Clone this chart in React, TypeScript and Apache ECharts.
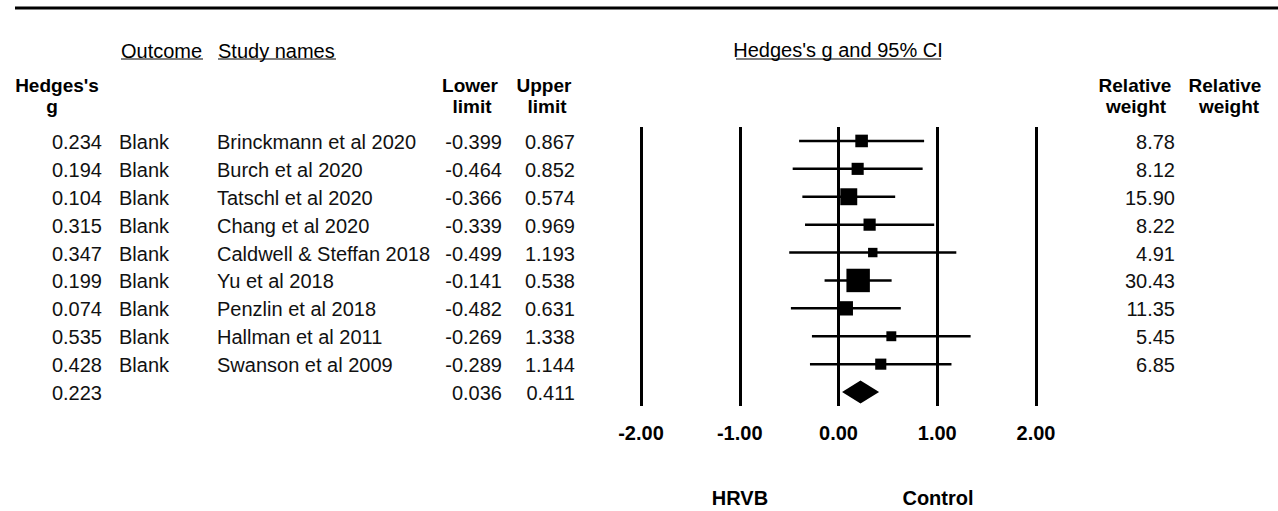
import React, { useEffect, useRef } from "react";
import * as echarts from "echarts";

// ---------- data ----------
const outcomes = ["Blank", "Blank", "Blank", "Blank", "Blank", "Blank", "Blank", "Blank", "Blank"];
const studyNames = [
  "Brinckmann et al 2020",
  "Burch et al 2020",
  "Tatschl et al 2020",
  "Chang et al 2020",
  "Caldwell & Steffan 2018",
  "Yu et al 2018",
  "Penzlin et al 2018",
  "Hallman et al 2011",
  "Swanson et al 2009",
];
const hedgesG = [0.234, 0.194, 0.104, 0.315, 0.347, 0.199, 0.074, 0.535, 0.428];
const lowerLimits = [-0.399, -0.464, -0.366, -0.339, -0.499, -0.141, -0.482, -0.269, -0.289];
const upperLimits = [0.867, 0.852, 0.574, 0.969, 1.193, 0.538, 0.631, 1.338, 1.144];
const relativeWeights = [8.78, 8.12, 15.9, 8.22, 4.91, 30.43, 11.35, 5.45, 6.85];
// summary: g, lower, upper
const summaryValues = [0.223, 0.036, 0.411];
const xTicks = [-2, -1, 0, 1, 2];
const sideLabels = ["HRVB", "Control"];

const FONT = "'Liberation Sans', Arial, Helvetica, sans-serif";

export default function App() {
  const ref = useRef<HTMLDivElement>(null);

  useEffect(() => {
    document.body.style.margin = "0";
    if (!ref.current) return;
    const chart = echarts.init(ref.current, undefined, { renderer: "svg" });

    const nRows = studyNames.length + 1;
    const studyData = hedgesG.map((g, i) => [g, lowerLimits[i], upperLimits[i], i, relativeWeights[i]]);
    const summaryData = [[summaryValues[0], summaryValues[1], summaryValues[2], studyNames.length]];
    const tableData = studyNames.map((_, i) => [0, i]);

    const txt = (x: number, y: number, text: string, align: string, bold = false, size = 20, color = "#111") => ({
      type: "text",
      x,
      y,
      style: {
        text,
        fill: bold ? "#000" : color,
        font: `${bold ? "bold " : ""}${size}px ${FONT}`,
        textAlign: align,
        textVerticalAlign: "middle",
      },
    });

    const hLine = (x1: number, x2: number, y: number, w: number) => ({
      type: "line",
      shape: { x1, y1: y, x2, y2: y },
      style: { stroke: "#000", lineWidth: w },
    });

    const option: any = {
      animation: false,
      backgroundColor: "#fff",
      grid: { left: 641, right: 242, top: 127, height: 279, containLabel: false },
      xAxis: {
        type: "value",
        min: xTicks[0],
        max: xTicks[xTicks.length - 1],
        interval: 1,
        axisLine: { show: false },
        axisTick: { show: false },
        splitLine: {
          show: true,
          showMinLine: true,
          showMaxLine: true,
          lineStyle: { color: "#000", width: 3 },
        },
        axisLabel: {
          margin: 17,
          color: "#000",
          fontSize: 20,
          fontWeight: "bold",
          fontFamily: FONT,
          formatter: (v: number) => v.toFixed(2),
          showMinLabel: true,
          showMaxLabel: true,
        },
      },
      yAxis: {
        type: "value",
        min: -0.5,
        max: nRows - 0.5,
        inverse: true,
        show: false,
        splitLine: { show: false },
      },
      series: [
        {
          type: "custom",
          name: "studies",
          clip: false,
          data: studyData,
          encode: { x: [0, 1, 2], y: 3 },
          renderItem: (params: any, api: any) => {
            const y = api.coord([0, api.value(3)])[1];
            const xg = api.coord([api.value(0), api.value(3)])[0];
            const xl = api.coord([api.value(1), api.value(3)])[0];
            const xu = api.coord([api.value(2), api.value(3)])[0];
            const s = 4.25 * Math.sqrt(api.value(4));
            return {
              type: "group",
              children: [
                { type: "line", shape: { x1: xl, y1: y, x2: xu, y2: y }, style: { stroke: "#000", lineWidth: 2.5 } },
                { type: "rect", shape: { x: xg - s / 2, y: y - s / 2, width: s, height: s }, style: { fill: "#000" } },
              ],
            };
          },
        },
        {
          type: "custom",
          name: "summary",
          clip: false,
          data: summaryData,
          encode: { x: [0, 1, 2], y: 3 },
          renderItem: (params: any, api: any) => {
            const y = api.coord([0, api.value(3)])[1];
            const xg = api.coord([api.value(0), api.value(3)])[0];
            const xl = api.coord([api.value(1), api.value(3)])[0];
            const xu = api.coord([api.value(2), api.value(3)])[0];
            const h = 11.5;
            return {
              type: "polygon",
              shape: { points: [[xl, y], [xg, y - h], [xu, y], [xg, y + h]] },
              style: { fill: "#000" },
            };
          },
        },
        {
          type: "custom",
          name: "table",
          clip: false,
          silent: true,
          data: tableData,
          encode: { x: 0, y: 1 },
          renderItem: (params: any, api: any) => {
            const i = params.dataIndex;
            const y = api.coord([0, api.value(1)])[1] + 1;
            return {
              type: "group",
              children: [
                txt(102, y, hedgesG[i].toFixed(3), "right"),
                txt(119, y, outcomes[i], "left"),
                txt(217, y, studyNames[i], "left"),
                txt(502, y, lowerLimits[i].toFixed(3), "right"),
                txt(575, y, upperLimits[i].toFixed(3), "right"),
                txt(1175, y, relativeWeights[i].toFixed(2), "right"),
              ],
            };
          },
        },
        {
          type: "custom",
          name: "summaryTable",
          clip: false,
          silent: true,
          data: [[0, studyNames.length]],
          encode: { x: 0, y: 1 },
          renderItem: (params: any, api: any) => {
            const y = api.coord([0, api.value(1)])[1] + 1;
            return {
              type: "group",
              children: [
                txt(102, y, summaryValues[0].toFixed(3), "right"),
                txt(502, y, summaryValues[1].toFixed(3), "right"),
                txt(575, y, summaryValues[2].toFixed(3), "right"),
              ],
            };
          },
        },
      ],
      graphic: [
        hLine(15, 1278, 8, 3),
        txt(121, 51, "Outcome", "left", false, 20, "#000"),
        hLine(121, 203, 59, 1.2),
        txt(218, 51, "Study names", "left", false, 20, "#000"),
        hLine(218, 336, 59, 1.2),
        txt(838, 50, "Hedges's g and 95% CI", "center", false, 20, "#000"),
        hLine(736, 941, 59, 1.2),
        txt(57, 85, "Hedges's", "center", true, 19),
        txt(52, 106, "g", "center", true, 19),
        txt(470, 85, "Lower", "center", true, 19),
        txt(472, 106, "limit", "center", true, 19),
        txt(544, 85, "Upper", "center", true, 19),
        txt(547, 106, "limit", "center", true, 19),
        txt(1135, 85, "Relative", "center", true, 19),
        txt(1136, 106, "weight", "center", true, 19),
        txt(1225, 85, "Relative", "center", true, 19),
        txt(1229, 106, "weight", "center", true, 19),
        txt(740, 498, sideLabels[0], "center", true),
        txt(938, 498, sideLabels[1], "center", true),
      ],
    };

    chart.setOption(option);
    return () => chart.dispose();
  }, []);

  return <div ref={ref} style={{ width: 1278, height: 511 }} />;
}
